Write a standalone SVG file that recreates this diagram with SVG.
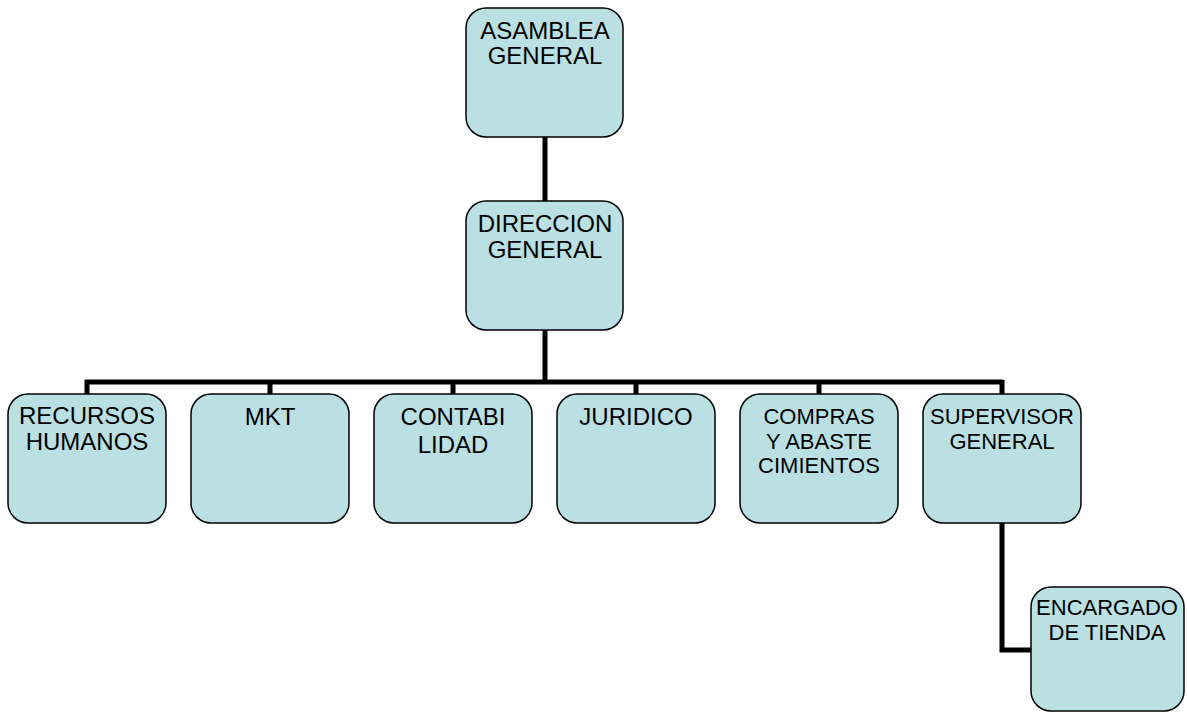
<svg xmlns="http://www.w3.org/2000/svg" width="1187" height="713" viewBox="0 0 1187 713">
<style>
.box{fill:#bbe0e3;stroke:#000;stroke-width:1.5}
.t{font-family:"Liberation Sans",Arial,sans-serif;font-size:24px;fill:#000;text-anchor:middle}
.s{font-size:22px}
.c{fill:none;stroke:#000;stroke-width:5}
</style>
<rect width="1187" height="713" fill="#fff"/>
<g id="connectors">
<path class="c" d="M545 137V201"/>
<path class="c" d="M545 330V382"/>
<path class="c" d="M85 382H1003"/>
<path class="c" d="M87 380V394M270 380V394M453 380V394M636 380V394M819 380V394M1002 380V394"/>
<path class="c" d="M1002 523V650H1031"/>
</g>
<g id="asamblea"><rect class="box" x="466" y="8" width="157" height="129" rx="20"/><text class="t" x="545" y="39">ASAMBLEA</text><text class="t" x="545" y="64">GENERAL</text></g>
<g id="direccion"><rect class="box" x="466" y="201" width="157" height="129" rx="20"/><text class="t" x="545" y="232">DIRECCION</text><text class="t" x="545" y="258">GENERAL</text></g>
<g id="recursos"><rect class="box" x="8" y="394" width="158" height="129" rx="20"/><text class="t" x="87" y="424">RECURSOS</text><text class="t" x="87" y="450">HUMANOS</text></g>
<g id="mkt"><rect class="box" x="191" y="394" width="158" height="129" rx="20"/><text class="t" x="270" y="425">MKT</text></g>
<g id="contabilidad"><rect class="box" x="374" y="394" width="158" height="129" rx="20"/><text class="t" x="453" y="425">CONTABI</text><text class="t" x="453" y="453">LIDAD</text></g>
<g id="juridico"><rect class="box" x="557" y="394" width="158" height="129" rx="20"/><text class="t" x="636" y="425">JURIDICO</text></g>
<g id="compras"><rect class="box" x="740" y="394" width="158" height="129" rx="20"/><text class="t s" x="819" y="424">COMPRAS</text><text class="t s" x="819" y="449">Y ABASTE</text><text class="t s" x="819" y="473">CIMIENTOS</text></g>
<g id="supervisor"><rect class="box" x="923" y="394" width="158" height="129" rx="20"/><text class="t s" x="1002" y="424">SUPERVISOR</text><text class="t s" x="1002" y="449">GENERAL</text></g>
<g id="encargado"><rect class="box" x="1031" y="587" width="153" height="124" rx="20"/><text class="t s" x="1107" y="615">ENCARGADO</text><text class="t s" x="1107" y="640">DE TIENDA</text></g>
</svg>
